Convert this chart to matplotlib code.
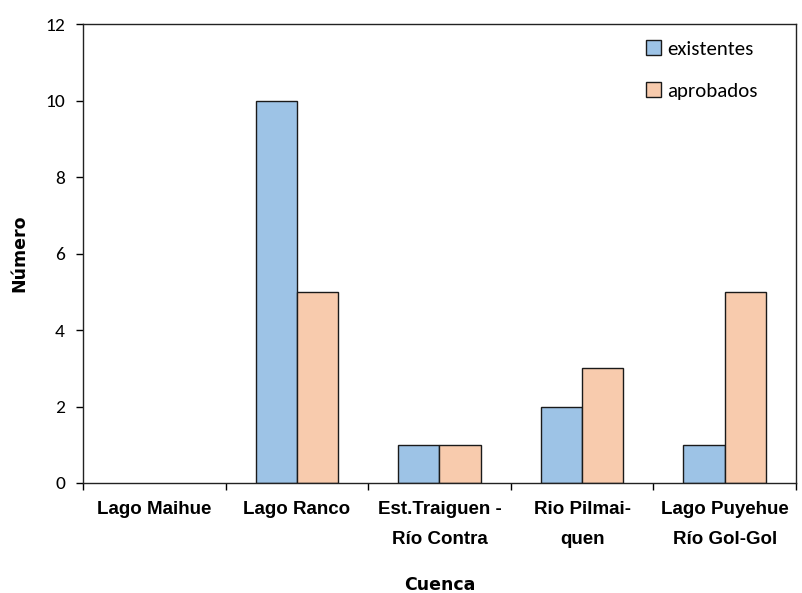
import matplotlib
matplotlib.use("Agg")
import matplotlib.pyplot as plt
import numpy as np

categories = ["Lago Maihue", "Lago Ranco", "Est.Traiguen -\nRío Contra",
              "Rio Pilmai-\nquen", "Lago Puyehue\nRío Gol-Gol"]
existentes = [0, 10, 1, 2, 1]
aprobados = [0, 5, 1, 3, 5]
y_ticks = [0, 2, 4, 6, 8, 10, 12]

blue = "#9DC3E6"
peach = "#F8CBAD"
edge = "#1a1a1a"
body_font = ["Carlito", "Liberation Sans", "DejaVu Sans"]

fig = plt.figure(figsize=(8.02, 5.93), dpi=100)
ax = fig.add_axes([0.1035, 0.1855, 0.889, 0.774])

x = np.arange(len(categories))
w = 0.29
ax.bar(x - w / 2, existentes, w, color=blue, edgecolor=edge,
       linewidth=[1.0 if v else 0 for v in existentes], label="existentes")
ax.bar(x + w / 2, aprobados, w, color=peach, edgecolor=edge,
       linewidth=[1.0 if v else 0 for v in aprobados], label="aprobados")

ax.set_xlim(-0.5, len(categories) - 0.5)
ax.set_ylim(0, 12)
ax.set_yticks(y_ticks)
ax.set_yticklabels([str(v) for v in y_ticks], fontsize=14, family=body_font)

# category boundaries carry the tick marks; labels sit at the centres
ax.set_xticks(np.arange(len(categories) + 1) - 0.5)
ax.set_xticklabels([])
ax.set_xticks(x, minor=True)
ax.set_xticklabels(categories, minor=True, fontsize=13.5, fontweight="bold",
                   family=["Liberation Sans", "DejaVu Sans"],
                   linespacing=2.0, va="top")
ax.tick_params(axis="x", which="minor", length=0, pad=13)
ax.tick_params(axis="x", which="major", length=5, width=1, direction="out")
ax.tick_params(axis="y", length=5, width=1, direction="out", pad=8)

for s in ax.spines.values():
    s.set_linewidth(1.0)
    s.set_color("#222222")

ax.set_ylabel("Número", fontsize=12.5, fontweight="bold", labelpad=12)
ax.set_xlabel("Cuenca", fontsize=12.5, fontweight="bold", labelpad=20)

leg = ax.legend(loc="upper right", bbox_to_anchor=(0.972, 1.005), frameon=False,
                handlelength=0.7, handleheight=0.7,
                handletextpad=0.3, labelspacing=1.15,
                prop={"family": body_font, "size": 15})
for h in leg.legend_handles:
    h.set_edgecolor(edge)
    h.set_linewidth(1.0)

fig.savefig("out.png", dpi=100)
